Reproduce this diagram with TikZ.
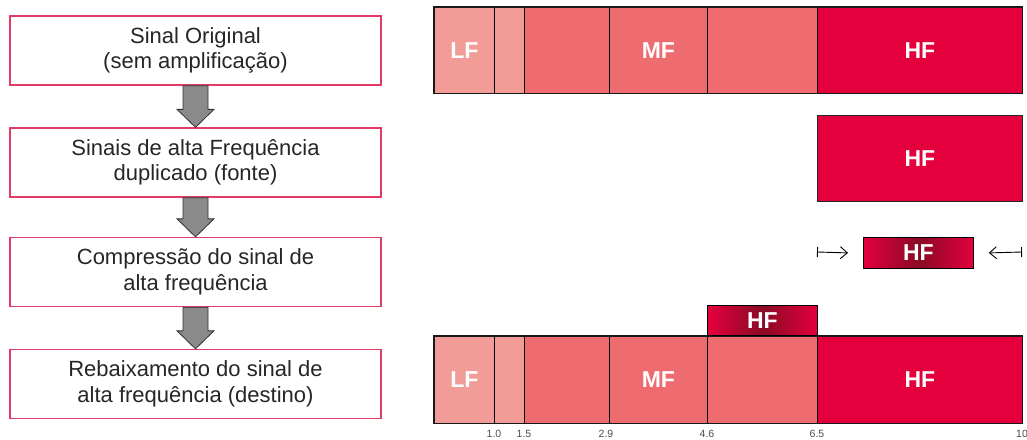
\documentclass[tikz,border=0pt]{standalone}
\usepackage{fontspec}
\setmainfont{Liberation Sans}
\usetikzlibrary{arrows.meta}
\definecolor{lf}{HTML}{F29C98}
\definecolor{mf}{HTML}{EE6B70}
\definecolor{hf}{HTML}{E4003D}
\definecolor{hfdark}{HTML}{8A0A24}
\definecolor{boxred}{HTML}{E33A66}
\definecolor{arrowgray}{HTML}{8A8A8A}
\begin{document}
\begin{tikzpicture}[x=1pt,y=-1pt,
  stepbox/.style={draw=boxred, line width=1.3pt, minimum width=371pt, minimum height=69pt,
    inner sep=0pt, align=center, text=black!85, font=\fontsize{22}{25.5}\selectfont},
  grayarrow/.style={fill=arrowgray, draw=black!80, line width=0.8pt, line join=miter},
  seg/.style={draw=black, line width=0.8pt, inner sep=0pt, anchor=north west, minimum height=86pt},
  barframe/.style={draw=black!90, line width=1.2pt},
  lab/.style={text=white, font=\fontsize{23}{23}\selectfont\bfseries},
  tick/.style={text=black!70, font=\fontsize{10.5}{10.5}\selectfont, anchor=center},
  shrink/.style={line width=0.9pt, {Bar[width=10pt]}-{Straight Barb[length=7pt,width=12pt]}},
  hfgrad/.style={draw=black, line width=0.8pt, left color=hf, right color=hf, middle color=hfdark}
]
\useasboundingbox (0,0) rectangle (1027,439);

% left column
\node[stepbox] (b1) at (195.5,50.5) {Sinal Original\\(sem amplificação)};
\node[stepbox] (b2) at (195.5,162.5) {Sinais de alta Frequência\\duplicado (fonte)};
\node[stepbox] (b3) at (195.5,272) {Compressão do sinal de\\alta frequência};
\node[stepbox] (b4) at (195.5,384) {Rebaixamento do sinal de\\alta frequência (destino)};

\foreach \a/\b in {b1/b2,b2/b3,b3/b4}{
  \draw[grayarrow] ([xshift=-12.5pt]\a.south) -- ([xshift=-12.5pt,yshift=18pt]\b.north)
    -- ([xshift=-18.5pt,yshift=18pt]\b.north) -- (\b.north)
    -- ([xshift=18.5pt,yshift=18pt]\b.north) -- ([xshift=12.5pt,yshift=18pt]\b.north)
    -- ([xshift=12.5pt]\a.south) -- cycle;
}

% top bar
\node[seg, fill=lf, minimum width=60pt] (t1) at (434,7) {};
\node[seg, fill=lf, minimum width=30pt] (t2) at (494,7) {};
\node[seg, fill=mf, minimum width=85pt] (t3) at (524,7) {};
\node[seg, fill=mf, minimum width=98pt] (t4) at (609,7) {};
\node[seg, fill=mf, minimum width=110pt] (t5) at (707,7) {};
\node[seg, fill=hf, minimum width=205pt] (t6) at (817,7) {};
\draw[barframe] (t1.north west) rectangle (t6.south east);
\node[lab] at (t1.center) {LF};
\node[lab] at (t4.center) {MF};
\node[lab] at (t6.center) {HF};

% second bar
\node[seg, fill=hf, minimum width=205pt, draw=none] (s1) at (817,115) {};
\draw[draw=black!85, line width=0.9pt] (s1.north west) rectangle (s1.south east);
\node[lab] at (s1.center) {HF};

% compressed
\node[hfgrad, inner sep=0pt, anchor=north west, minimum width=110pt, minimum height=31pt] (c1) at (863,237) {};
\node[lab] at (c1.center) {HF};
\coordinate (cl) at (817,252);
\coordinate (cr) at (1022,252);
\draw[shrink] (cl) -- ([xshift=-15pt]c1.west);
\draw[shrink] (cr) -- ([xshift=15pt]c1.east);

% bottom bar
\node[seg, fill=lf, minimum width=60pt, minimum height=87pt] (u1) at (434,336) {};
\node[seg, fill=lf, minimum width=30pt, minimum height=87pt] (u2) at (494,336) {};
\node[seg, fill=mf, minimum width=85pt, minimum height=87pt] (u3) at (524,336) {};
\node[seg, fill=mf, minimum width=98pt, minimum height=87pt] (u4) at (609,336) {};
\node[seg, fill=mf, minimum width=110pt, minimum height=87pt] (u5) at (707,336) {};
\node[seg, fill=hf, minimum width=205pt, minimum height=87pt] (u6) at (817,336) {};
\draw[barframe] (u1.north west) rectangle (u6.south east);
\node[lab] at (u1.center) {LF};
\node[lab] at (u4.center) {MF};
\node[lab] at (u6.center) {HF};
\node[hfgrad, inner sep=0pt, anchor=south west, minimum width=110pt, minimum height=30pt] (h1) at (u5.north west) {};
\node[lab] at (h1.center) {HF};

% ticks
\node[tick] at (494,434) {1.0};
\node[tick] at (524,434) {1.5};
\node[tick] at (606,434) {2.9};
\node[tick] at (707,434) {4.6};
\node[tick] at (817,434) {6.5};
\node[tick] at (1022,434) {10};
\end{tikzpicture}
\end{document}
